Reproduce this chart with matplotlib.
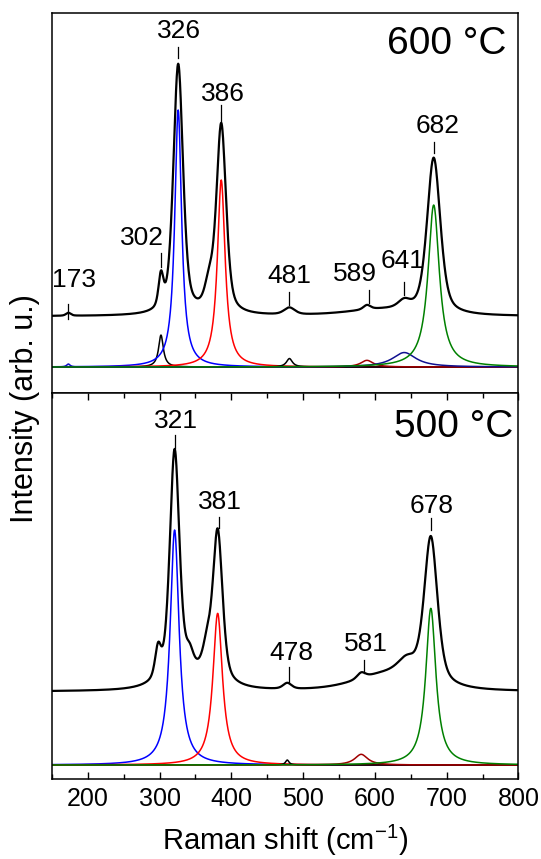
import numpy as np
import matplotlib
matplotlib.use("Agg")
import matplotlib.pyplot as plt

plt.rcParams["font.family"] = ["Liberation Sans", "DejaVu Sans"]

# Raman shift axis (cm-1)
shift = np.arange(150, 800.5, 0.5)

# ---- 600 °C: fitted Lorentzian components ----
comp600_center = [173, 302, 326, 386, 481, 589, 641, 682]
comp600_height = [3, 32, 257, 187, 8.5, 6.7, 14.5, 162]
comp600_fwhm = [6, 8, 11.5, 13, 10, 21, 40, 19]
comp600_color = ["#1010c0", "black", "#0000ff", "#ff0000", "black", "#a00000", "#101090", "#008000"]

# ---- 600 °C: measured spectrum (peak list) ----
exp600_center = [173, 302, 326, 369, 386, 481, 589, 641, 682, 610]
exp600_height = [3, 32, 250, 24, 189, 7, 4.5, 8, 156, 6]
exp600_fwhm = [8, 8, 16, 14, 16, 18, 12, 20, 22, 120]
exp600_offset = 50.7

# ---- 500 °C: fitted Lorentzian components ----
comp500_center = [321, 381, 478, 581, 678]
comp500_height = [235, 151.7, 5, 10.7, 156.7]
comp500_fwhm = [15, 16, 6, 22, 17]
comp500_color = ["#0000ff", "#ff0000", "black", "#a00000", "#008000"]

# ---- 500 °C: measured spectrum (peak list) ----
exp500_center = [298, 321, 342, 345, 366, 381, 478, 581, 620, 645, 678]
exp500_height = [30, 229, 15, 14, 25, 150, 6, 6, 17, 15, 146]
exp500_fwhm = [10, 16, 12, 80, 14, 16, 14, 14, 110, 30, 22]
exp500_offset = 73.3

# peak labels
lab600 = ["173", "302", "326", "386", "481", "589", "641", "682"]
lab600_tick_x = [173, 302, 326, 386, 481, 592, 640, 683]
lab600_text_x = [181, 276, 327, 389, 481, 572, 638, 687]
lab600_text_y = [87, 128.7, 336, 272.8, 91.2, 92.8, 106.2, 241.2]
lab600_tick_y = [(48, 63), (100.3, 113.7), (308.7, 320.3), (245.3, 262), (62, 75.3),
                 (63.7, 77), (72, 85.3), (213.7, 225.3)]

lab500 = ["321", "381", "478", "581", "678"]
lab500_tick_x = [321, 383, 481, 585, 678]
lab500_text_x = [322.6, 384.8, 483, 588, 679.5]
lab500_text_y = [344.2, 263.3, 112.5, 120.8, 259.2]
lab500_tick_y = [(316.7, 330), (236.7, 248.3), (83.3, 98.3), (91.7, 105), (235, 246.7)]


def lorentz(x, c, h, w):
    return h / (1 + ((x - c) / (w / 2)) ** 2)


def pvoigt(x, c, h, w, eta=0.5):
    sig = w / 2.3548
    return eta * lorentz(x, c, h, w) + (1 - eta) * h * np.exp(-0.5 * ((x - c) / sig) ** 2)


def spectrum(x, centers, heights, widths, offset):
    y = np.full_like(x, offset, dtype=float)
    for c, h, w in zip(centers, heights, widths):
        y += pvoigt(x, c, h, w)
    return y


fig = plt.figure(figsize=(5.41, 8.59), dpi=100)
ax1 = fig.add_axes([0.0959, 0.5421, 0.8623, 0.4424])
ax2 = fig.add_axes([0.0959, 0.0931, 0.8623, 0.4490])

# top panel
for c, h, w, col in zip(comp600_center, comp600_height, comp600_fwhm, comp600_color):
    if col == "#008000":
        continue
    ax1.plot(shift, lorentz(shift, c, h, w), color=col, lw=1.1)
ax1.plot(shift, lorentz(shift, 682, 162, 19), color="#008000", lw=1.1)
ax1.plot(shift, spectrum(shift, exp600_center, exp600_height, exp600_fwhm, exp600_offset),
         color="black", lw=1.6)

for t, tx, lx, ly, (y0, y1) in zip(lab600, lab600_tick_x, lab600_text_x, lab600_text_y, lab600_tick_y):
    ax1.plot([tx, tx], [y0, y1], color="black", lw=0.9)
    ax1.text(lx, ly, t, ha="center", va="center", fontsize=19)

ax1.text(0.975, 0.892, "600 °C", transform=ax1.transAxes, ha="right", va="baseline", fontsize=28)
ax1.set_xlim(150, 800)
ax1.set_ylim(-26.3, 353.7)
ax1.set_xticks([])
ax1.set_yticks([])

# bottom panel
for c, h, w, col in zip(comp500_center, comp500_height, comp500_fwhm, comp500_color):
    if col == "#008000":
        continue
    ax2.plot(shift, lorentz(shift, c, h, w), color=col, lw=1.1)
ax2.plot(shift, lorentz(shift, 678, 156.7, 17), color="#008000", lw=1.1)
ax2.plot(shift, spectrum(shift, exp500_center, exp500_height, exp500_fwhm, exp500_offset),
         color="black", lw=1.6)

for t, tx, lx, ly, (y0, y1) in zip(lab500, lab500_tick_x, lab500_text_x, lab500_text_y, lab500_tick_y):
    ax2.plot([tx, tx], [y0, y1], color="black", lw=0.9)
    ax2.text(lx, ly, t, ha="center", va="center", fontsize=19)

ax2.text(0.99, 0.8875, "500 °C", transform=ax2.transAxes, ha="right", va="baseline", fontsize=28)
ax2.set_xlim(150, 800)
ax2.set_ylim(-14, 371.7)
ax2.set_yticks([])
ax2.set_xticks(np.arange(200, 801, 100))
ax2.set_xticks(np.arange(150, 801, 50), minor=True)
ax2.tick_params(axis="x", which="both", direction="in", top=True, labelsize=18, pad=6)
ax2.tick_params(axis="x", which="major", length=5, width=1)
ax2.tick_params(axis="x", which="minor", length=3.5, width=1)

for ax in (ax1, ax2):
    for s in ax.spines.values():
        s.set_linewidth(1.1)

fig.text(285.5 / 541, 1 - 850 / 859, "Raman shift (cm$\\mathregular{^{-1}}$)",
         ha="center", va="baseline", fontsize=21)
fig.text(25 / 541, 1 - 409 / 859, "Intensity (arb. u.)", rotation=90,
         ha="center", va="center", fontsize=22)

fig.savefig("out.png", dpi=100)
